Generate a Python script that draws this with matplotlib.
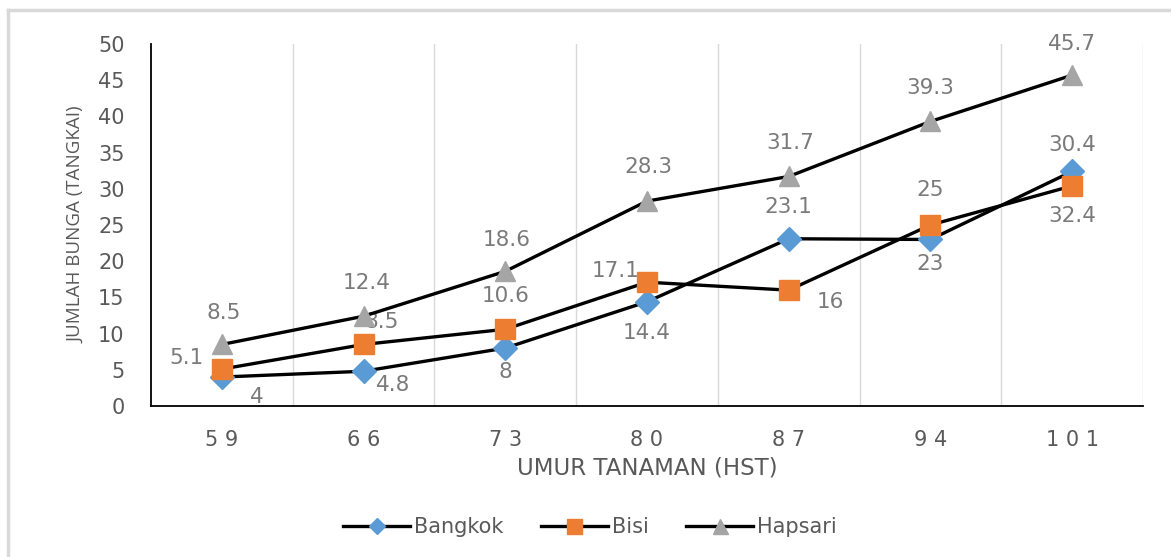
#!/usr/bin/env python

# Jumlah bunga per umur tanaman, three varieties

import matplotlib
matplotlib.use('Agg')
import matplotlib.pyplot as plt
from matplotlib.lines import Line2D

plt.rcParams['font.family'] = ['DejaVu Sans']

umur = [59, 66, 73, 80, 87, 94, 101]
bangkok = [4, 4.8, 8, 14.4, 23.1, 23, 32.4]
bisi = [5.1, 8.5, 10.6, 17.1, 16, 25, 30.4]
hapsari = [8.5, 12.4, 18.6, 28.3, 31.7, 39.3, 45.7]

# label offsets in pixels (dx, dy), placed by hand like the original
off_bangkok = [(35, -20), (30, -14), (0, -24), (0, -31), (0, 32), (0, -25), (0, -45)]
off_bisi = [(-35, 11), (18, 22), (0, 33), (-31, 11), (42, -12), (0, 35), (0, 41)]
off_hapsari = [(2, 31), (3, 33), (1, 31), (1, 34), (2, 33), (0, 33), (0, 31)]

grey = '#595959'
lblgrey = '#7a7a7a'

fig = plt.figure(figsize=(11.71, 5.57), dpi=100)
ax = fig.add_axes([151 / 1171, 1 - 406 / 557, (1143 - 151) / 1171, (406 - 44) / 557])

x = list(range(len(umur)))
series = [
    ('Bangkok', bangkok, 'D', '#5b9bd5', 12, off_bangkok),
    ('Bisi', bisi, 's', '#ed7d31', 15, off_bisi),
    ('Hapsari', hapsari, '^', '#a5a5a5', 15, off_hapsari),
]
handles = []
for name, vals, mk, col, ms, offs in series:
    ax.plot(x, vals, color='black', lw=2.4, marker=mk, markersize=ms,
            markerfacecolor=col, markeredgecolor=col, zorder=3)
    handles.append(Line2D([], [], color='black', lw=2.4, marker=mk,
                          markersize=ms * 0.72, markerfacecolor=col,
                          markeredgecolor=col, label=name))
    for xi, v, (dx, dy) in zip(x, vals, offs):
        ax.annotate(f'{v:g}', (xi, v), xytext=(dx, dy), textcoords='offset pixels',
                    ha='center', va='center', fontsize=15.5, color=lblgrey, zorder=2)

ax.set_xlim(-0.5, len(umur) - 0.5)
ax.set_ylim(0, 50)
ax.set_yticks(range(0, 51, 5))
ax.set_xticks(x)
ax.set_xticklabels([' '.join(str(u)) for u in umur])
ax.set_xticks([i + 0.5 for i in x], minor=True)
ax.xaxis.grid(True, which='minor', color='#d9d9d9', lw=1)
ax.tick_params(which='both', length=0)
ax.tick_params(axis='y', labelsize=15, labelcolor=grey, pad=19)
ax.tick_params(axis='x', labelsize=15, labelcolor=grey, pad=17)
for s in ['top', 'right']:
    ax.spines[s].set_visible(False)
for s in ['left', 'bottom']:
    ax.spines[s].set_color('black')
    ax.spines[s].set_linewidth(1.3)

ax.set_xlabel('UMUR TANAMAN (HST)', fontsize=16.5, color=grey, labelpad=5)
ax.set_ylabel('JUMLAH BUNGA (TANGKAI)', fontsize=13.5, color=grey, labelpad=9,
              family=['Open Sans', 'DejaVu Sans'])

fig.legend(handles=handles, loc='center', bbox_to_anchor=(590 / 1171, 1 - 527 / 557),
           ncol=3, frameon=False, fontsize=15, labelcolor=grey,
           handlelength=3.2, handletextpad=0.2, columnspacing=1.8)

# outer chart border (only top and left visible)
fig.add_artist(Line2D([8 / 1171, 1], [1 - 10 / 557] * 2, color='#d9d9d9', lw=2.5))
fig.add_artist(Line2D([8 / 1171] * 2, [0, 1 - 10 / 557], color='#d9d9d9', lw=2.5))

fig.savefig('out.png', dpi=100)
